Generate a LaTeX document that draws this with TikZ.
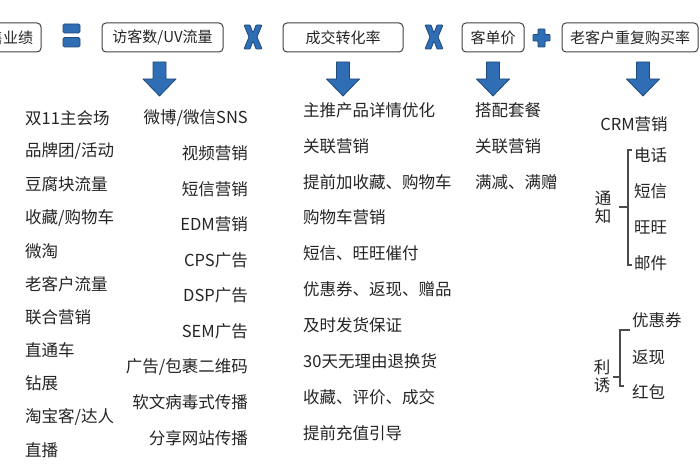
\documentclass[tikz,border=0pt]{standalone}
\usepackage{fontspec}
\setmainfont{Noto Sans CJK SC}
\definecolor{symblue}{HTML}{2F6DB5}
\definecolor{symdark}{HTML}{1F4A7A}
\definecolor{txt}{HTML}{242424}
\begin{document}
\begin{tikzpicture}[x=1pt,y=-1pt,
  box/.style={draw=black!75, line width=1pt, rounded corners=4pt, minimum height=29pt,
    inner sep=0pt, font=\fontsize{15}{18}\selectfont, text=txt},
  item/.style={font=\fontsize{16.5}{20}\selectfont, text=txt, inner sep=0pt},
  vlab/.style={font=\fontsize{16.5}{18}\selectfont, text=txt, inner sep=0pt, align=center},
  sym/.style={fill=symblue, draw=symdark, line width=0.8pt, line join=round},
  brk/.style={draw=black!70, line width=1.2pt}]
\useasboundingbox (0,0) rectangle (700,470);
\clip (0,0) rectangle (700,470);
% top row
\node[box, minimum width=76pt] (b0) at (3,37.5) {销售业绩};
\node[box, minimum width=121pt] (b1) at (162.5,37.5) {访客数/UV流量};
\node[box, minimum width=120pt] (b2) at (343,37.5) {成交转化率};
\node[box, minimum width=62pt] (b3) at (493,37.5) {客单价};
\node[box, minimum width=136pt] (b4) at (630,37.5) {老客户重复购买率};
% equals
\draw[sym, rounded corners=1.5pt] (63,24) rectangle (80,33);
\draw[sym, rounded corners=1.5pt] (63,37.5) rectangle (80,47);
% X symbols
\foreach \cx in {253,434}{
  \draw[sym, rounded corners=0.8pt] (\cx-9,25) -- (\cx-3,25) -- (\cx,33) -- (\cx+3,25) -- (\cx+9,25)
    -- (\cx+4,37) -- (\cx+9,49) -- (\cx+3,49) -- (\cx,41) -- (\cx-3,49) -- (\cx-9,49) -- (\cx-4,37) -- cycle;
}
% plus
\draw[sym, rounded corners=0.8pt] (538,29) -- (545,29) -- (545,34.5) -- (550,34.5) -- (550,41) -- (545,41)
  -- (545,47) -- (538,47) -- (538,41) -- (533,41) -- (533,34.5) -- (538,34.5) -- cycle;
% down arrows
\foreach \c in {159.5,343,493,643}{
  \draw[sym] (\c-6.5,62) -- (\c+6.5,62) -- (\c+6.5,79) -- (\c+16.5,79) -- (\c,96)
    -- (\c-16.5,79) -- (\c-6.5,79) -- cycle;
}
% column 1
\foreach \t [count=\i from 0] in {双11主会场,品牌团/活动,豆腐块流量,收藏/购物车,微淘,老客户流量,联合营销,直通车,钻展,淘宝客/达人,直播}{
  \node[item, anchor=west] (a\i) at (25,118+33.2*\i) {\t};
}
% column 2
\foreach \t [count=\i from 0] in {微博/微信SNS,视频营销,短信营销,EDM营销,CPS广告,DSP广告,SEM广告,广告/包裹二维码,软文病毒式传播,分享网站传播}{
  \node[item, anchor=east] (c\i) at (248,118+35.55*\i) {\t};
}
% column 3
\foreach \t [count=\i from 0] in {主推产品详情优化,关联营销,提前加收藏、购物车,购物车营销,短信、旺旺催付,优惠券、返现、赠品,及时发货保证,30天无理由退换货,收藏、评价、成交,提前充值引导}{
  \node[item, anchor=west] (d\i) at (303,110+35.9*\i) {\t};
}
% column 4
\foreach \t [count=\i from 0] in {搭配套餐,关联营销,满减、满赠}{
  \node[item, anchor=west] (e\i) at (475,110+35.9*\i) {\t};
}
% column 5
\node[item] (crm) at (634,124) {CRM营销};
\foreach \t [count=\i from 0] in {电话,短信,旺旺,邮件}{
  \node[item, anchor=west] (n\i) at (634,155+36*\i) {\t};
}
\node[vlab] (tz) at (603,207.5) {通\\知};
\draw[brk] (632,150) -- (628,150) -- (628,265) -- (632,265);
\draw[brk] (628,207) -- (619,207);
\foreach \t/\y [count=\i from 0] in {优惠券/320,返现/357,红包/392}{
  \node[item, anchor=west] (p\i) at (632,\y) {\t};
}
\node[vlab] (ly) at (602,376) {利\\诱};
\draw[brk] (630,330) -- (620,330) -- (620,386) -- (624,386);
\draw[brk] (620,377) -- (613,377);
\end{tikzpicture}
\end{document}
